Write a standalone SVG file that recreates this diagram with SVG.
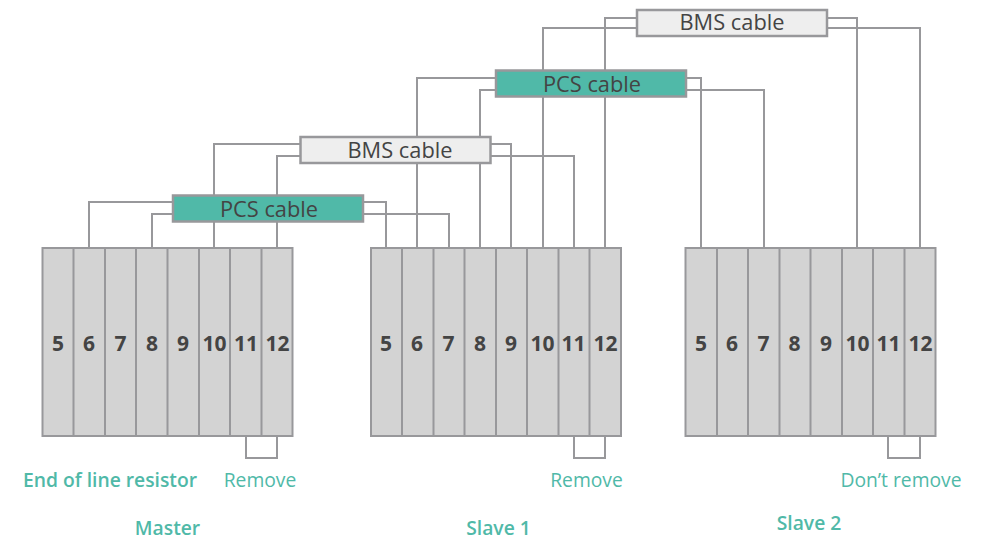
<svg xmlns="http://www.w3.org/2000/svg" width="986" height="541" viewBox="0 0 986 541">
<style>
text{font-family:"Open Sans","Noto Sans",sans-serif}
.w{fill:none;stroke:#98989b;stroke-width:2}
.rack{fill:#d3d3d3;stroke:#98989b;stroke-width:2}
.box{stroke:#98989b;stroke-width:2.5}
.pcs{fill:#50b9a8}.bms{fill:#eeeeee}
.bl{font-size:21.800px;font-weight:500;fill:#444;text-anchor:middle}
.n{font-size:21px;font-weight:700;fill:#444;text-anchor:middle}
.g{font-size:19.300px;fill:#50b9a8;text-anchor:middle}
.gb{font-size:19.300px;font-weight:600;fill:#50b9a8;text-anchor:middle}
</style>
<rect width="986" height="541" fill="#fff"/>
<g id="connectors" class="w">
<path d="M173 202H89V248M173 214H152V248M363 202H386V248M363 214H449V248"/>
<path d="M300 144H214V248M300 156H277V248M490 144H511V248M490 156H574V248"/>
<path d="M496 78H417V248M496 90H480V248M686 78H701V248M686 90H764V248"/>
<path d="M637 18H605V248M637 28H543V248M827 18H857V248M827 28H920V248"/>
<path d="M246 436V458H277V436M574 436V458H605V436M888 436V458H920V436"/>
</g>
<g id="rack-master">
<rect class="rack" x="42.500" y="248" width="250" height="188"/>
<path class="w" d="M73.500 248V436M105 248V436M136 248V436M167.500 248V436M199 248V436M230 248V436M261.500 248V436"/>
<g class="n"><text x="58" y="351">5</text><text x="89" y="351">6</text><text x="120.500" y="351">7</text><text x="152" y="351">8</text><text x="183" y="351">9</text><text x="214.500" y="351">10</text><text x="246" y="351">11</text><text x="277.500" y="351">12</text></g>
</g>
<g id="rack-slave1">
<rect class="rack" x="371" y="248" width="250" height="188"/>
<path class="w" d="M402 248V436M433.500 248V436M464.500 248V436M496 248V436M527 248V436M558.500 248V436M589.500 248V436"/>
<g class="n"><text x="386" y="351">5</text><text x="417" y="351">6</text><text x="448.500" y="351">7</text><text x="480" y="351">8</text><text x="511" y="351">9</text><text x="542.500" y="351">10</text><text x="573.500" y="351">11</text><text x="605.500" y="351">12</text></g>
</g>
<g id="rack-slave2">
<rect class="rack" x="685.500" y="248" width="250" height="188"/>
<path class="w" d="M717 248V436M748 248V436M779.500 248V436M810.500 248V436M842 248V436M873 248V436M904.500 248V436"/>
<g class="n"><text x="701" y="351">5</text><text x="732" y="351">6</text><text x="763.500" y="351">7</text><text x="794.500" y="351">8</text><text x="826" y="351">9</text><text x="857.500" y="351">10</text><text x="888.500" y="351">11</text><text x="920.500" y="351">12</text></g>
</g>
<g id="pcs-1"><rect class="box pcs" x="173" y="195.500" width="190" height="26"/><text class="bl" x="269" y="216.500">PCS cable</text></g>
<g id="bms-1"><rect class="box bms" x="300.500" y="137" width="190" height="26"/><text class="bl" x="400" y="157.500">BMS cable</text></g>
<g id="pcs-2"><rect class="box pcs" x="496" y="70.500" width="190" height="26"/><text class="bl" x="592" y="91.500">PCS cable</text></g>
<g id="bms-2"><rect class="box bms" x="637" y="10" width="190" height="26"/><text class="bl" x="732" y="29.500">BMS cable</text></g>
<g id="labels">
<text class="gb" x="110" y="487">End of line resistor</text>
<text class="g" x="260" y="486.500">Remove</text>
<text class="g" x="586.500" y="486.500">Remove</text>
<text class="g" x="901" y="486.500">Don’t remove</text>
<text class="gb" x="167.500" y="535.300">Master</text>
<text class="gb" x="498.500" y="535.300">Slave 1</text>
<text class="gb" x="809" y="530">Slave 2</text>
</g>
</svg>
